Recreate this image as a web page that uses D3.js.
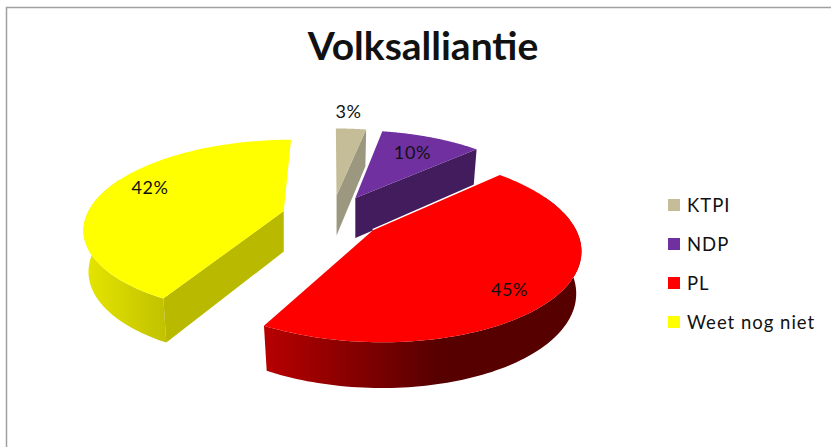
<!DOCTYPE html>
<html>
<head>
<meta charset="utf-8">
<script src="https://cdn.jsdelivr.net/npm/d3@7/dist/d3.min.js"></script>
<style>
  html, body { margin: 0; padding: 0; background: #fff; }
  svg { display: block; }
  text { font-family: Lato, "Open Sans", sans-serif; fill: #111; }
</style>
</head>
<body>
<div id="chart"></div>
<script>
const title = "Volksalliantie";
const categories = ["KTPI", "NDP", "PL", "Weet nog niet"];
const values = [3, 10, 45, 42];
const topColors = ["#c4bd97", "#7030a0", "#ff0000", "#ffff00"];
const cutColors = ["#9c9880", "#421c5c", "#5a0000", "#b9b900"];
const wallLight = ["#c4bd97", "#7030a0", "#b80000", "#e6e600"];
const wallDark = ["#9c9880", "#421c5c", "#560000", "#c2c200"];
const wallStop = [1, 1, 0.55, 1];

const width = 831, height = 447;

// fake 3d: disc coords (u, v) go through a perspective squash
const cx = 332, cy = 216.5, rx = 241, ry = 105, persp = 0.22, depth = 45, explode = 0.255;
const bottomShrink = 0.975; // lower disc looks a little smaller

function project(u, v) {
  const k = 1 / (1 + persp * (1 + v));
  return { x: cx + rx * u * k, y: cy - ry * v * k, d: depth * Math.sqrt(k) };
}

const svg = d3.select("#chart").append("svg")
  .attr("width", width)
  .attr("height", height);

const defs = svg.append("defs");

// chart frame, runs off the right and bottom of the picture
svg.append("path")
  .attr("d", `M6.5,${height} V7.5 H${width}`)
  .attr("fill", "none")
  .attr("stroke", "#a0a0a0")
  .attr("stroke-width", 1.5);

svg.append("text")
  .attr("x", 423)
  .attr("y", 60)
  .attr("text-anchor", "middle")
  .attr("font-size", 39)
  .attr("font-weight", 700)
  .text(title);

const arcs = d3.pie().sort(null).value(d => d)(values);
const line = d3.line().x(d => d.x).y(d => d.y);

arcs.forEach((a, i) => {
  const mid = (a.startAngle + a.endAngle) / 2;
  const ox = explode * Math.sin(mid), oy = explode * Math.cos(mid);
  const at = t => project(ox + Math.sin(t), oy + Math.cos(t));
  const apex = project(ox, oy);
  const below = p => ({ x: apex.x + (p.x - apex.x) * bottomShrink, y: p.y + p.d });
  const g = svg.append("g");

  const angles = d3.range(0, 121).map(j => a.startAngle + (a.endAngle - a.startAngle) * j / 120);
  const rim = angles.map(at);

  // outer wall, only the part that faces the viewer
  const front = angles.filter(t => Math.cos(t) < 0.4).map(at);
  if (front.length > 1) {
    const xs = d3.extent(front, d => d.x);
    const grad = defs.append("linearGradient")
      .attr("id", "wall" + i)
      .attr("gradientUnits", "userSpaceOnUse")
      .attr("x1", xs[0]).attr("x2", xs[1])
      .attr("y1", 0).attr("y2", 0);
    grad.append("stop").attr("offset", 0).attr("stop-color", wallLight[i]);
    grad.append("stop").attr("offset", wallStop[i]).attr("stop-color", wallDark[i]);
    g.append("path")
      .attr("d", line(front.concat(front.map(below).reverse())) + "Z")
      .attr("fill", `url(#wall${i})`);
  }

  // cut faces that look towards the viewer
  const cuts = [];
  if (Math.sin(a.startAngle) < -1e-6) cuts.push(rim[0]);
  if (Math.sin(a.endAngle) > 1e-6) cuts.push(rim[rim.length - 1]);
  cuts.forEach(p => {
    g.append("path")
      .attr("d", line([apex, p, below(p), below(apex)]) + "Z")
      .attr("fill", cutColors[i]);
  });

  // PL sits in front of the NDP wall with a thin white gap
  if (categories[i] == "PL") {
    g.append("path")
      .attr("d", line([apex, rim[0]]))
      .attr("stroke", "#fff")
      .attr("stroke-width", 3);
  }

  g.append("path")
    .attr("d", line([apex].concat(rim)) + "Z")
    .attr("fill", topColors[i]);
});

// data labels sit where the spreadsheet's best fit put them
const labelRadius = [1.3, 0.72, 0.82, 0.79];
const labelTurn = [-0.03, 0.0, 0.13, 0.13];
arcs.forEach((a, i) => {
  const mid = (a.startAngle + a.endAngle) / 2;
  const ox = explode * Math.sin(mid), oy = explode * Math.cos(mid);
  const t = mid + labelTurn[i];
  const p = project(ox + labelRadius[i] * Math.sin(t), oy + labelRadius[i] * Math.cos(t));
  svg.append("text")
    .attr("x", p.x)
    .attr("y", p.y)
    .attr("dy", "0.35em")
    .attr("text-anchor", "middle")
    .attr("font-size", 18)
    .attr("letter-spacing", 0.6)
    .text(values[i] + "%");
});

const legendY = d3.scalePoint().domain(categories).range([205, 322]);
const legend = svg.append("g").selectAll("g")
  .data(categories)
  .enter()
  .append("g")
  .attr("transform", d => `translate(668, ${legendY(d)})`);

legend.append("rect")
  .attr("y", -6)
  .attr("width", 12)
  .attr("height", 12)
  .attr("fill", (d, i) => topColors[i]);

legend.append("text")
  .attr("x", 19)
  .attr("y", 1)
  .attr("dy", "0.35em")
  .attr("font-size", 18.5)
  .attr("letter-spacing", 1)
  .text(d => d);
</script>
</body>
</html>
